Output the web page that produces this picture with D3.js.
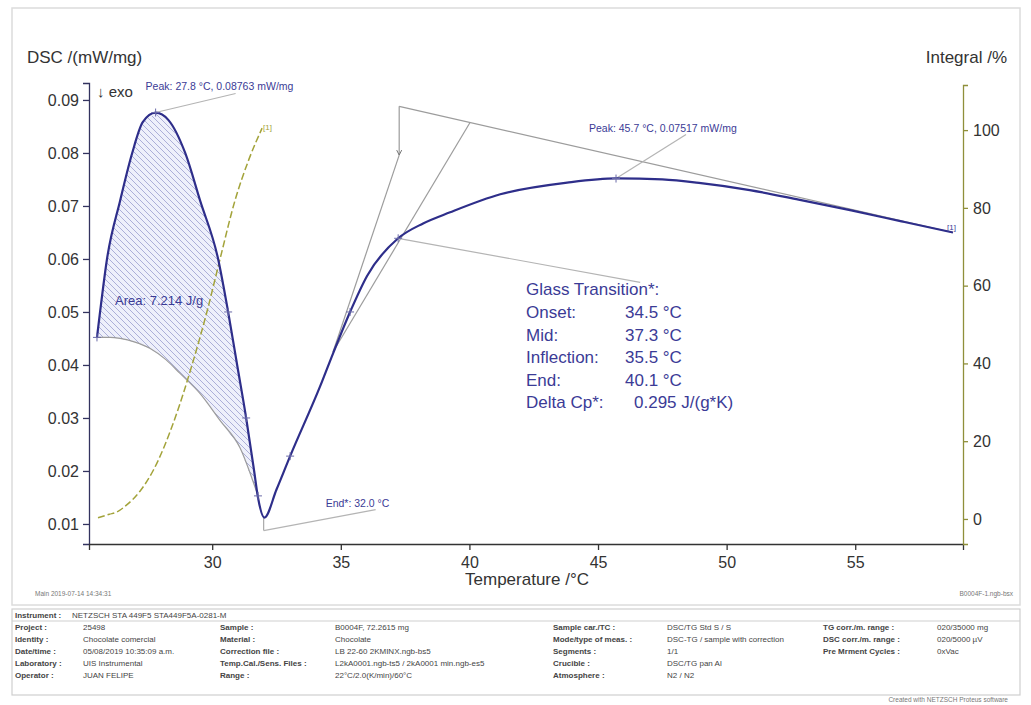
<!DOCTYPE html>
<html>
<head>
<meta charset="utf-8">
<script src="https://cdn.jsdelivr.net/npm/d3@7"></script>
<style>
body { margin: 0; background: #fff; }
svg { font-family: "Liberation Sans", Arial, sans-serif; }
</style>
</head>
<body>
<svg width="1031" height="705"></svg>
<script>
// DSC curve (temperature /°C, DSC /(mW/mg))
var dscTemp = [25.52, 25.64, 25.91, 26.42, 26.89, 27.3, 27.8, 28.3, 28.95, 29.53, 30.23, 30.62, 30.97, 31.32, 31.63, 31.78, 32.03,
               32.5, 33.03, 34.19, 34.7, 35.36, 36.02, 37.23, 38.2, 39.25, 41.2, 43.8, 45.7, 47.5, 49.0, 50.9, 52.8, 54.8, 56.8, 58.8];
var dscValue = [0.0452, 0.050, 0.060, 0.071, 0.080, 0.0858, 0.0876, 0.0862, 0.080, 0.071, 0.060, 0.050, 0.040, 0.030, 0.020, 0.015, 0.0112,
                0.0165, 0.0228, 0.0359, 0.0422, 0.050, 0.0568, 0.0639, 0.0667, 0.0688, 0.0722, 0.0744, 0.0752, 0.0750, 0.0743, 0.0730, 0.0712, 0.0692, 0.0671, 0.0650];

// peak baseline under the first peak
var baseTemp = [25.52, 26.03, 26.42, 27.0, 27.59, 28.2, 28.75, 29.53, 30.31, 31.08, 31.78];
var baseValue = [0.0452, 0.0452, 0.0450, 0.0443, 0.0431, 0.0410, 0.0384, 0.0346, 0.0295, 0.0244, 0.0153];

// partial area integral /%
var intTemp = [25.56, 26.0, 26.3, 26.6, 27.2, 27.7, 28.56, 29.22, 29.8, 30.31, 30.89, 31.4, 31.94];
var intValue = [0.3, 1.2, 1.8, 3.2, 7.2, 12.4, 26, 39.7, 53.4, 67, 82, 92, 100.5];

// small evaluation marks on the curve
var markTemp = [25.52, 30.62, 31.32, 31.78, 33.03, 35.36, 37.23];
var markValue = [0.0452, 0.050, 0.030, 0.0153, 0.0228, 0.050, 0.0639];

// glass transition construction lines (start / end points)
var gtFrom = [[37.27, 0.0888], [37.27, 0.0888], [37.27, 0.0796], [40.03, 0.0858]];
var gtTo = [[58.8, 0.0650], [37.27, 0.0796], [34.7, 0.0425], [34.7, 0.0425]];

var peakTemp = [27.8, 45.7];
var peakValue = [0.08763, 0.07517];
var peakLabels = ["Peak: 27.8 °C, 0.08763 mW/mg", "Peak: 45.7 °C, 0.07517 mW/mg"];
var endTemp = 32.0;

var gtNames = ["Onset:", "Mid:", "Inflection:", "End:", "Delta Cp*:"];
var gtValues = ["34.5 °C", "37.3 °C", "35.5 °C", "40.1 °C", "0.295 J/(g*K)"];

var xTicks = [30, 35, 40, 45, 50, 55];
var yTicks = [0.01, 0.02, 0.03, 0.04, 0.05, 0.06, 0.07, 0.08, 0.09];
var rTicks = [0, 20, 40, 60, 80, 100];

var tableInstrument = "NETZSCH STA 449F5 STA449F5A-0281-M";
var col1Labels = ["Project :", "Identity :", "Date/time :", "Laboratory :", "Operator :"];
var col1Values = ["25498", "Chocolate comercial", "05/08/2019 10:35:09 a.m.", "UIS Instrumental", "JUAN FELIPE"];
var col2Labels = ["Sample :", "Material :", "Correction file :", "Temp.Cal./Sens. Files :", "Range :"];
var col2Values = ["B0004F, 72.2615 mg", "Chocolate", "LB 22-60 2KMINX.ngb-bs5", "L2kA0001.ngb-ts5 / 2kA0001 min.ngb-es5", "22°C/2.0(K/min)/60°C"];
var col3Labels = ["Sample car./TC :", "Mode/type of meas. :", "Segments :", "Crucible :", "Atmosphere :"];
var col3Values = ["DSC/TG Std S / S", "DSC-TG / sample with correction", "1/1", "DSC/TG pan Al", "N2 / N2"];
var col4Labels = ["TG corr./m. range :", "DSC corr./m. range :", "Pre Mrment Cycles :"];
var col4Values = ["020/35000 mg", "020/5000 µV", "0xVac"];

var svg = d3.select("svg");
var navy = "#2e2e8a";
var textBlue = "#3b3b96";
var grey = "#9c9c9c";
var olive = "#8f8f3a";

svg.append("rect").attr("width", 1031).attr("height", 705).attr("fill", "#fff");

// frames
svg.append("rect")
    .attr("x", 12).attr("y", 8).attr("width", 1008).attr("height", 597)
    .attr("fill", "none").attr("stroke", "#dcdcdc").attr("stroke-width", 1.5);
svg.append("rect")
    .attr("x", 12).attr("y", 609).attr("width", 1008).attr("height", 86)
    .attr("fill", "none").attr("stroke", "#cfcfcf").attr("stroke-width", 1.2);

var x = d3.scaleLinear().domain([25.21, 59.19]).range([89, 963]);
var y = d3.scaleLinear().domain([0.00622, 0.0932]).range([544, 83]);
var yR = d3.scaleLinear().domain([-6.44, 111.6]).range([544, 85]);

var defs = svg.append("defs");
var pat = defs.append("pattern")
    .attr("id", "hatch")
    .attr("patternUnits", "userSpaceOnUse")
    .attr("width", 6).attr("height", 6);
pat.append("rect").attr("width", 6).attr("height", 6).attr("fill", "#eef0fb");
pat.append("path")
    .attr("d", "M0,0L6,6M-1,5L1,7M5,-1L7,1")
    .attr("stroke", "#9a9ecf").attr("stroke-width", 0.8);

// hatched area between curve and baseline
var areaPts = [];
dscTemp.forEach(function(t, i) { if (t <= 31.78) areaPts.push([t, dscValue[i]]); });
for (var i = baseTemp.length - 1; i >= 0; i--) areaPts.push([baseTemp[i], baseValue[i]]);
svg.append("path")
    .attr("d", d3.line().x(function(d) { return x(d[0]); }).y(function(d) { return y(d[1]); })(areaPts) + "Z")
    .attr("fill", "url(#hatch)").attr("stroke", "none");

// baseline
svg.append("path")
    .datum(baseTemp.map(function(t, i) { return [t, baseValue[i]]; }))
    .attr("d", d3.line().curve(d3.curveMonotoneX).x(function(d) { return x(d[0]); }).y(function(d) { return y(d[1]); }))
    .attr("fill", "none").attr("stroke", grey).attr("stroke-width", 1.2);

// glass transition construction
gtFrom.forEach(function(p, i) {
    svg.append("line")
        .attr("x1", x(p[0])).attr("y1", y(p[1]))
        .attr("x2", x(gtTo[i][0])).attr("y2", y(gtTo[i][1]))
        .attr("stroke", grey).attr("stroke-width", 1.2);
});
// little arrow on the delta-cp step
svg.append("path")
    .attr("d", "M" + (x(37.27) - 2.5) + "," + (y(0.0796) - 5) + "L" + x(37.27) + "," + y(0.0796) + "L" + (x(37.27) + 2.5) + "," + (y(0.0796) - 5))
    .attr("fill", "none").attr("stroke", "#777").attr("stroke-width", 1);

// leader lines
svg.append("line")
    .attr("x1", x(peakTemp[0])).attr("y1", y(peakValue[0]))
    .attr("x2", x(peakTemp[0]) + 80).attr("y2", y(peakValue[0]) - 19)
    .attr("stroke", "#b4b4b4").attr("stroke-width", 1.2);
svg.append("line")
    .attr("x1", x(peakTemp[1])).attr("y1", y(peakValue[1]))
    .attr("x2", x(peakTemp[1]) + 70).attr("y2", y(peakValue[1]) - 44)
    .attr("stroke", "#b4b4b4").attr("stroke-width", 1.2);
svg.append("line")
    .attr("x1", x(37.23)).attr("y1", y(0.0639))
    .attr("x2", x(37.23) + 242).attr("y2", y(0.0639) + 44)
    .attr("stroke", "#b4b4b4").attr("stroke-width", 1.2);
svg.append("line")
    .attr("x1", x(endTemp)).attr("y1", y(0.0112))
    .attr("x2", x(endTemp)).attr("y2", y(0.0112) + 13)
    .attr("stroke", "#aaa").attr("stroke-width", 1.2);
svg.append("line")
    .attr("x1", x(endTemp)).attr("y1", y(0.0112) + 13)
    .attr("x2", x(endTemp) + 112).attr("y2", y(0.0112) - 8)
    .attr("stroke", "#b4b4b4").attr("stroke-width", 1.2);

// integral curve
svg.append("path")
    .datum(intTemp.map(function(t, i) { return [t, intValue[i]]; }))
    .attr("d", d3.line().curve(d3.curveMonotoneX).x(function(d) { return x(d[0]); }).y(function(d) { return yR(d[1]); }))
    .attr("fill", "none").attr("stroke", "#a3a33a").attr("stroke-width", 1.5)
    .attr("stroke-dasharray", "7,3");
svg.append("text")
    .attr("x", x(intTemp[intTemp.length - 1]) + 1).attr("y", yR(intValue[intValue.length - 1]) + 2)
    .attr("font-size", 8).attr("fill", "#a3a33a").text("[1]");

// DSC curve
svg.append("path")
    .datum(dscTemp.map(function(t, i) { return [t, dscValue[i]]; }))
    .attr("d", d3.line().curve(d3.curveMonotoneX).x(function(d) { return x(d[0]); }).y(function(d) { return y(d[1]); }))
    .attr("fill", "none").attr("stroke", navy).attr("stroke-width", 2.2);
svg.append("text")
    .attr("x", x(dscTemp[dscTemp.length - 1]) - 6).attr("y", y(dscValue[dscValue.length - 1]) - 2)
    .attr("font-size", 8).attr("fill", textBlue).text("[1]");

// cross marks
var marks = markTemp.map(function(t, i) { return [t, markValue[i]]; })
    .concat(peakTemp.map(function(t, i) { return [t, peakValue[i]]; }));
marks.forEach(function(m) {
    svg.append("path")
        .attr("d", "M" + (x(m[0]) - 4) + "," + y(m[1]) + "h8M" + x(m[0]) + "," + (y(m[1]) - 4) + "v8")
        .attr("stroke", "#6a6aa8").attr("stroke-width", 1);
});

// axes
var gL = svg.append("g").attr("transform", "translate(89,0)");
gL.call(d3.axisLeft(y).tickValues(d3.range(7, 94).map(function(d) { return d / 1000; })).tickSize(3).tickFormat(""));
gL.call(d3.axisLeft(y).tickValues(yTicks).tickSize(6).tickPadding(4).tickFormat(d3.format(".2f")));
gL.selectAll("path, line").attr("stroke", "#33335f").attr("stroke-width", 1.3);
gL.selectAll("text").attr("font-size", 16).attr("fill", "#333").attr("font-family", null);

var gB = svg.append("g").attr("transform", "translate(0,544)");
gB.call(d3.axisBottom(x).tickValues(d3.range(26, 60)).tickSize(3).tickFormat(""));
gB.call(d3.axisBottom(x).tickValues(xTicks).tickSize(6).tickPadding(7).tickFormat(d3.format("d")));
gB.selectAll("path, line").attr("stroke", "#333").attr("stroke-width", 1.3);
gB.selectAll("text").attr("font-size", 16).attr("fill", "#333").attr("font-family", null);

var gR = svg.append("g").attr("transform", "translate(963,0)");
gR.call(d3.axisRight(yR).tickValues([10, 30, 50, 70, 90, 110]).tickSize(3).tickFormat(""));
gR.call(d3.axisRight(yR).tickValues(rTicks).tickSize(5).tickPadding(5).tickFormat(d3.format("d")));
gR.selectAll("path, line").attr("stroke", olive).attr("stroke-width", 1.3);
gR.selectAll("text").attr("font-size", 16).attr("fill", "#333").attr("font-family", null);

// axis titles
svg.append("text").attr("x", 27).attr("y", 63).attr("font-size", 17).attr("fill", "#333").text("DSC /(mW/mg)");
svg.append("text").attr("x", 1007).attr("y", 63).attr("text-anchor", "end").attr("font-size", 17).attr("fill", "#333").text("Integral /%");
svg.append("text").attr("x", 527).attr("y", 585).attr("text-anchor", "middle").attr("font-size", 17).attr("fill", "#333").text("Temperature /°C");
svg.append("text").attr("x", 97).attr("y", 97).attr("font-size", 15).attr("fill", "#333").text("↓ exo");

// annotations
svg.append("text").attr("x", x(peakTemp[0]) - 10).attr("y", y(peakValue[0]) - 23)
    .attr("font-size", 10.5).attr("fill", textBlue).text(peakLabels[0]);
svg.append("text").attr("x", x(peakTemp[1]) - 27).attr("y", y(peakValue[1]) - 47)
    .attr("font-size", 10.5).attr("fill", textBlue).text(peakLabels[1]);
svg.append("text").attr("x", x(endTemp) + 62).attr("y", y(0.0112) - 11)
    .attr("font-size", 10.5).attr("fill", textBlue).text("End*: " + endTemp.toFixed(1) + " °C");
svg.append("text").attr("x", 115).attr("y", 305)
    .attr("font-size", 13).attr("fill", textBlue).text("Area: 7.214 J/g");

var gt = svg.append("g").attr("fill", textBlue).attr("font-size", 17);
gt.append("text").attr("x", 526).attr("y", 295).text("Glass Transition*:");
gtNames.forEach(function(n, i) {
    gt.append("text").attr("x", 526).attr("y", 318 + i * 22.6).text(n);
    gt.append("text").attr("x", i === 4 ? 634 : 625).attr("y", 318 + i * 22.6).text(gtValues[i]);
});

// footer info
svg.append("text").attr("x", 35).attr("y", 596).attr("font-size", 6.5).attr("fill", "#777").text("Main    2019-07-14 14:34:31");
svg.append("text").attr("x", 1013).attr("y", 596).attr("text-anchor", "end").attr("font-size", 6.5).attr("fill", "#777").text("B0004F-1.ngb-bsx");

var tbl = svg.append("g").attr("font-size", 8).attr("fill", "#444");
tbl.append("text").attr("x", 15).attr("y", 618).attr("font-weight", "bold").text("Instrument :");
tbl.append("text").attr("x", 72).attr("y", 618).text(tableInstrument);
tbl.append("line").attr("x1", 12).attr("x2", 1020).attr("y1", 621).attr("y2", 621).attr("stroke", "#cfcfcf");

function column(labels, values, lx, vx) {
    labels.forEach(function(l, i) {
        var yy = 630 + i * 12;
        tbl.append("text").attr("x", lx).attr("y", yy).attr("font-weight", "bold").text(l);
        tbl.append("text").attr("x", vx).attr("y", yy).text(values[i]);
    });
}
column(col1Labels, col1Values, 15, 83);
column(col2Labels, col2Values, 220, 335);
column(col3Labels, col3Values, 553, 667);
column(col4Labels, col4Values, 823, 937);

svg.append("text").attr("x", 1008).attr("y", 702).attr("text-anchor", "end").attr("font-size", 6.5).attr("fill", "#777").text("Created with NETZSCH Proteus software");
</script>
</body>
</html>
